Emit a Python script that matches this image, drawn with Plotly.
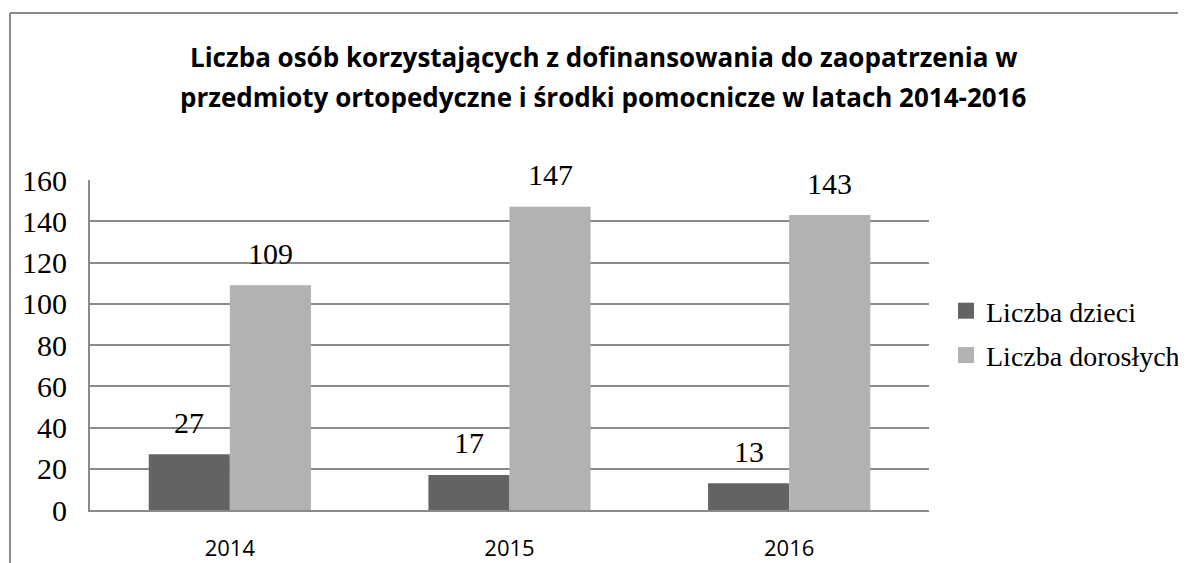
import plotly.graph_objects as go

years = ["2014", "2015", "2016"]
children = [27, 17, 13]
adults = [109, 147, 143]
series_names = ["Liczba dzieci", "Liczba dorosłych"]
colors = ["#636363", "#b2b2b2"]
title_lines = ["Liczba osób korzystających z dofinansowania do zaopatrzenia w",
               "przedmioty ortopedyczne i środki pomocnicze w latach 2014-2016"]

W, H = 1186, 563
OFF = 8  # page body offset
L, T = 90 - OFF, 180 - OFF
PR, PB = 929 - OFF, 510 - OFF
R, B = W - PR, H - PB
pw, ph = PR - L, PB - T
serif = "Liberation Serif, Times New Roman, serif"
sans = "Open Sans, sans-serif"


def px_x(x):
    return (x - OFF - L) / pw


def px_y(y):
    return (PB - (y - OFF)) / ph


fig = go.Figure()
for name, vals, col in zip(series_names, [children, adults], colors):
    fig.add_trace(go.Bar(x=years, y=vals, name=name, marker_color=col,
                         marker_line_width=0, showlegend=False,
                         legendgroup=name))
for name, col in zip(series_names, colors):
    fig.add_trace(go.Scatter(x=years, y=[None] * len(years), mode="markers",
                             name=name, hoverinfo="skip", legendgroup=name,
                             marker=dict(symbol="square", size=16, color=col),
                             showlegend=True))

# value labels (category index positions on the category axis)
bar_px = 81
for vals, shift in [(children, -bar_px / 2), (adults, bar_px / 2)]:
    for i, v in enumerate(vals):
        fig.add_annotation(x=i, y=v, xref="x", yref="y", text=str(v),
                           showarrow=False, xshift=shift, yshift=32,
                           yanchor="middle", xanchor="center",
                           font=dict(family=serif, size=30, color="black"))

# title lines
for line, yc in zip(title_lines, [57, 97]):
    fig.add_annotation(x=px_x(603), y=px_y(yc), xref="paper", yref="paper",
                       text="<b>" + line + "</b>", showarrow=False,
                       xanchor="center", yanchor="middle",
                       font=dict(family=sans, size=26, color="black"))

# outer frame (top and left lines)
fig.add_shape(type="line", xref="paper", yref="paper",
              x0=px_x(10), x1=px_x(1220), y0=px_y(13), y1=px_y(13),
              line=dict(color="#8a8a8a", width=2))
fig.add_shape(type="line", xref="paper", yref="paper",
              x0=px_x(10), x1=px_x(10), y0=px_y(13), y1=px_y(620),
              line=dict(color="#8a8a8a", width=2))

fig.update_layout(
    width=W, height=H,
    margin=dict(l=L, r=R, t=T, b=B, autoexpand=False),
    paper_bgcolor="white", plot_bgcolor="white",
    barmode="group", bargap=0.42, bargroupgap=0,
    legend=dict(x=px_x(946), y=px_y(333), xanchor="left", yanchor="middle",
                font=dict(family=serif, size=28, color="black"),
                bgcolor="rgba(0,0,0,0)", itemwidth=30, tracegroupgap=5,
                traceorder="grouped"),
    showlegend=True,
)
fig.update_xaxes(type="category", showgrid=False, showline=True,
                 linecolor="#8a8a8a", linewidth=2, ticks="",
                 tickfont=dict(family=sans, size=22, color="black"),
                 ticklabelstandoff=18)
fig.update_yaxes(range=[0, 160], dtick=20, showgrid=True, gridcolor="#8a8a8a",
                 gridwidth=2, showline=True, linecolor="#8a8a8a", linewidth=2,
                 zeroline=False, ticks="",
                 tickfont=dict(family=serif, size=30, color="black"),
                 ticklabelstandoff=15)

fig.write_html("out.html")
